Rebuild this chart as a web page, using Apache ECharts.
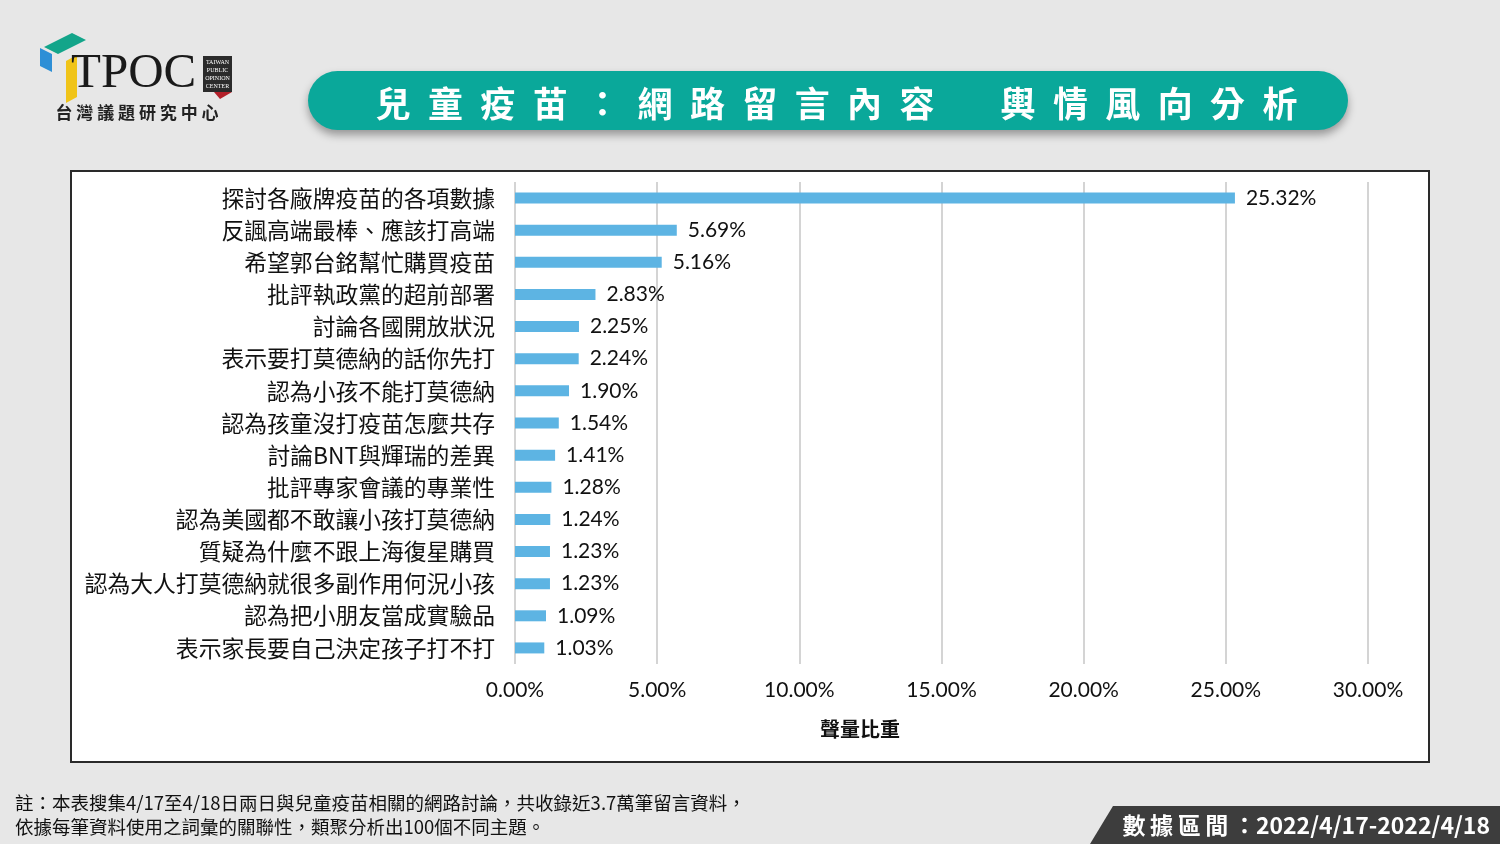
<!DOCTYPE html>
<html>
<head>
<meta charset="utf-8">
<script src="https://cdn.jsdelivr.net/npm/echarts@6/dist/echarts.min.js"></script>
<style>
  html, body { margin: 0; padding: 0; background: #e7e7e7; }
  #chart { width: 1500px; height: 844px; }
</style>
</head>
<body>
<div id="chart"></div>
<script>
// 主題 / 聲量比重 (%)
const topics = [
  '探討各廠牌疫苗的各項數據',
  '反諷高端最棒、應該打高端',
  '希望郭台銘幫忙購買疫苗',
  '批評執政黨的超前部署',
  '討論各國開放狀況',
  '表示要打莫德納的話你先打',
  '認為小孩不能打莫德納',
  '認為孩童沒打疫苗怎麼共存',
  '討論BNT與輝瑞的差異',
  '批評專家會議的專業性',
  '認為美國都不敢讓小孩打莫德納',
  '質疑為什麼不跟上海復星購買',
  '認為大人打莫德納就很多副作用何況小孩',
  '認為把小朋友當成實驗品',
  '表示家長要自己決定孩子打不打'
]
const shares = [25.32, 5.69, 5.16, 2.83, 2.25, 2.24, 1.90, 1.54, 1.41, 1.28, 1.24, 1.23, 1.23, 1.09, 1.03]

const titleLeft = '兒童疫苗：網路留言內容'
const titleRight = '輿情風向分析'
const axisName = '聲量比重'
const noteLines = [
  '註：本表搜集4/17至4/18日兩日與兒童疫苗相關的網路討論，共收錄近3.7萬筆留言資料，',
  '依據每筆資料使用之詞彙的關聯性，類聚分析出100個不同主題。'
]
const rangeText = '數\u2009據\u2009區\u2009間\u2009：2022/4/17-2022/4/18'

const cjk = '"Noto Sans CJK TC", "Noto Sans", sans-serif'
const num = 'Lato, "Noto Sans CJK TC", sans-serif'

const chart = echarts.init(document.getElementById('chart'))

// 標題逐字排開
const titleChars = []
const step = 52.4
Array.from(titleLeft).forEach((ch, i) => {
  titleChars.push({ type: 'text', x: 393 + i * step, y: 104, style: {
    text: ch, fill: '#fff', font: 'bold 35px ' + cjk, align: 'center', verticalAlign: 'middle' } })
})
Array.from(titleRight).forEach((ch, i) => {
  titleChars.push({ type: 'text', x: 1018 + i * step, y: 104, style: {
    text: ch, fill: '#fff', font: 'bold 35px ' + cjk, align: 'center', verticalAlign: 'middle' } })
})

chart.setOption({
  backgroundColor: '#e7e7e7',
  animation: false,
  grid: { left: 515, right: 132, top: 182, bottom: 180 },
  xAxis: {
    type: 'value',
    min: 0, max: 30, interval: 5,
    axisLine: { show: false },
    axisTick: { show: false },
    axisLabel: {
      margin: 16,
      color: '#111', fontSize: 21, fontFamily: num,
      formatter: v => v.toFixed(2) + '%'
    },
    splitLine: { lineStyle: { color: '#d4d4d4', width: 2 } }
  },
  yAxis: {
    type: 'category',
    inverse: true,
    data: topics,
    axisLine: { show: false },
    axisTick: { show: false },
    axisLabel: { margin: 20, color: '#111', fontSize: 22.8, fontFamily: cjk }
  },
  series: [{
    type: 'bar',
    data: shares,
    barWidth: 11,
    itemStyle: { color: '#5db4e3' },
    label: {
      show: true, position: 'right', distance: 11,
      color: '#111', fontSize: 21, fontFamily: num,
      formatter: p => p.value.toFixed(2) + '%'
    }
  }],
  graphic: [
    // 圖表外框
    { type: 'rect', z: -10, shape: { x: 71, y: 171, width: 1358, height: 591 },
      style: { fill: '#fff', stroke: '#2a2a2a', lineWidth: 2 } },
    { type: 'text', x: 860, y: 729, style: {
      text: axisName, fill: '#111', font: 'bold 20px ' + cjk, align: 'center', verticalAlign: 'middle' } },

    // 標題膠囊
    { type: 'rect', shape: { x: 308, y: 71, width: 1040, height: 59, r: 30 },
      style: { fill: '#0aa89a', shadowBlur: 8, shadowOffsetY: 5, shadowColor: 'rgba(0,0,0,0.35)' } },
    ...titleChars,

    // 標誌
    { type: 'polygon', shape: { points: [[44, 47], [72, 33], [86, 40], [58, 54]] }, style: { fill: '#13a58a' } },
    { type: 'polygon', shape: { points: [[40, 48], [52, 54], [52, 72], [40, 66]] }, style: { fill: '#2e8fd6' } },
    { type: 'polygon', shape: { points: [[66, 61], [77, 55], [77, 97], [66, 103]] }, style: { fill: '#f0c419' } },
    { type: 'text', x: 71, y: 74, style: {
      text: 'TPOC', fill: '#1a1a1a', font: '49px "Liberation Serif", "DejaVu Serif", serif', verticalAlign: 'middle' } },
    { type: 'rect', shape: { x: 203, y: 56, width: 29, height: 36 }, style: { fill: '#2b2b2b' } },
    { type: 'polygon', shape: { points: [[214, 92], [232, 92], [220, 99]] }, style: { fill: '#b3202a' } },
    { type: 'text', x: 217.5, y: 74, style: {
      text: 'TAIWAN\nPUBLIC\nOPINION\nCENTER', fill: '#fff', font: '6px "Liberation Serif", serif',
      align: 'center', verticalAlign: 'middle', lineHeight: 8 } },
    { type: 'text', x: 137, y: 113, style: {
      text: '台 灣 議 題 研 究 中 心', fill: '#222', font: 'bold 17px ' + cjk, align: 'center', verticalAlign: 'middle' } },

    // 註解
    { type: 'text', x: 15, y: 803, style: {
      text: noteLines[0], fill: '#111', font: '18.5px ' + cjk, verticalAlign: 'middle' } },
    { type: 'text', x: 15, y: 827, style: {
      text: noteLines[1], fill: '#111', font: '18.5px ' + cjk, verticalAlign: 'middle' } },

    // 數據區間
    { type: 'polygon', shape: { points: [[1090, 844], [1113, 806], [1500, 806], [1500, 844]] },
      style: { fill: '#3d3d3d' } },
    { type: 'text', x: 1490, y: 825, style: {
      text: rangeText, fill: '#fff', font: 'bold 23px ' + cjk, align: 'right', verticalAlign: 'middle' } }
  ]
})
</script>
</body>
</html>
